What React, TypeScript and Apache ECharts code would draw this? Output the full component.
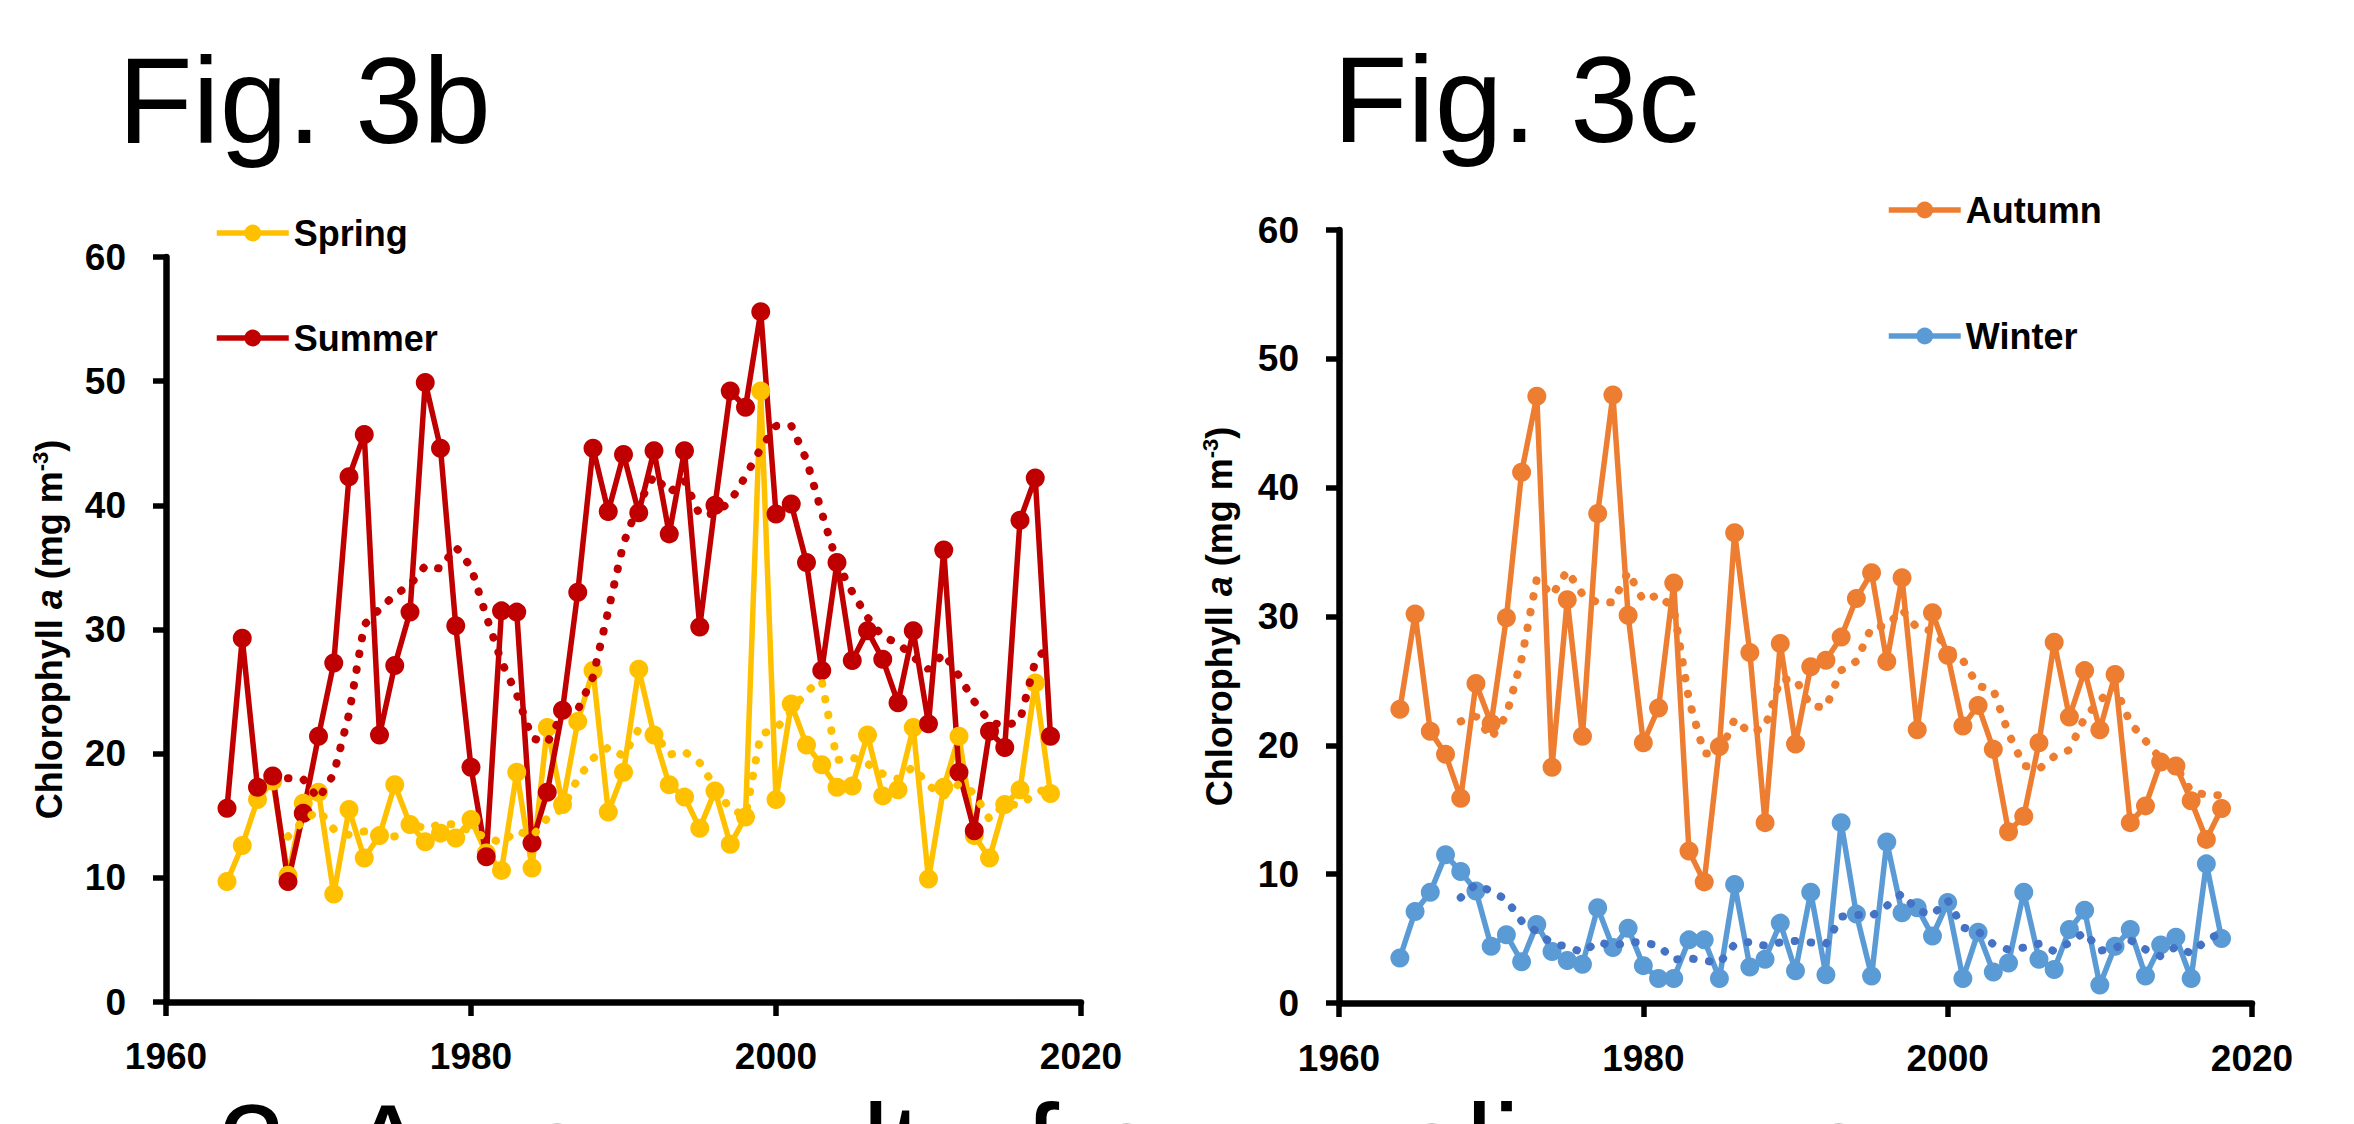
import React, { useEffect, useRef } from 'react';
import * as echarts from 'echarts';

const FONT = '"Liberation Sans", Arial, sans-serif';

const years = [
  1964, 1965, 1966, 1967, 1968, 1969, 1970, 1971, 1972, 1973,
  1974, 1975, 1976, 1977, 1978, 1979, 1980, 1981, 1982, 1983,
  1984, 1985, 1986, 1987, 1988, 1989, 1990, 1991, 1992, 1993,
  1994, 1995, 1996, 1997, 1998, 1999, 2000, 2001, 2002, 2003,
  2004, 2005, 2006, 2007, 2008, 2009, 2010, 2011, 2012, 2013,
  2014, 2015, 2016, 2017, 2018,
];

const trendYears = [
  1968, 1969, 1970, 1971, 1972, 1973, 1974, 1975, 1976, 1977,
  1978, 1979, 1980, 1981, 1982, 1983, 1984, 1985, 1986, 1987,
  1988, 1989, 1990, 1991, 1992, 1993, 1994, 1995, 1996, 1997,
  1998, 1999, 2000, 2001, 2002, 2003, 2004, 2005, 2006, 2007,
  2008, 2009, 2010, 2011, 2012, 2013, 2014, 2015, 2016, 2017, 2018,
];

const spring = [
  9.7, 12.6, 16.3, 17.8, 10.2, 16.0, 16.9, 8.7, 15.5, 11.6,
  13.4, 17.5, 14.3, 12.9, 13.6, 13.2, 14.7, 12.0, 10.6, 18.5,
  10.8, 22.1, 15.9, 22.6, 26.7, 15.3, 18.5, 26.8, 21.5, 17.5,
  16.5, 14.0, 17.0, 12.7, 14.9, 49.2, 16.3, 24.0, 20.7, 19.1,
  17.3, 17.4, 21.5, 16.6, 17.1, 22.1, 9.9, 17.3, 21.4, 13.4,
  11.6, 15.9, 17.1, 25.7, 16.8,
];

const summer = [
  15.6, 29.3, 17.3, 18.2, 9.7, 15.2, 21.4, 27.3, 42.3, 45.7,
  21.5, 27.1, 31.4, 49.9, 44.6, 30.3, 18.9, 11.7, 31.5, 31.4,
  12.8, 16.9, 23.5, 33.0, 44.6, 39.5, 44.1, 39.4, 44.4, 37.7,
  44.4, 30.2, 40.0, 49.2, 47.9, 55.6, 39.3, 40.1, 35.4, 26.7,
  35.4, 27.5, 29.9, 27.6, 24.1, 29.9, 22.4, 36.4, 18.5, 13.8,
  21.8, 20.5, 38.8, 42.2, 21.4,
];

const autumn = [
  22.8, 30.2, 21.1, 19.3, 15.9, 24.8, 21.7, 29.9, 41.2, 47.1,
  18.3, 31.3, 20.7, 38.0, 47.2, 30.1, 20.2, 22.9, 32.6, 11.8,
  9.4, 19.9, 36.5, 27.2, 14.0, 27.9, 20.1, 26.1, 26.6, 28.4,
  31.4, 33.4, 26.5, 33.0, 21.2, 30.3, 27.0, 21.5, 23.1, 19.7,
  13.3, 14.5, 20.2, 28.0, 22.2, 25.8, 21.2, 25.5, 14.0, 15.3,
  18.7, 18.4, 15.7, 12.7, 15.1,
];

const winter = [
  3.5, 7.1, 8.6, 11.5, 10.2, 8.7, 4.4, 5.3, 3.2, 6.1,
  4.0, 3.3, 3.0, 7.4, 4.3, 5.8, 2.9, 1.9, 1.9, 4.9,
  4.9, 1.9, 9.2, 2.8, 3.4, 6.2, 2.5, 8.6, 2.2, 14.0,
  6.9, 2.1, 12.5, 7.0, 7.4, 5.2, 7.8, 1.9, 5.5, 2.4,
  3.1, 8.6, 3.4, 2.6, 5.7, 7.2, 1.4, 4.4, 5.7, 2.1,
  4.5, 5.1, 1.9, 10.8, 5.0,
];

// dotted trend lines (5-year moving-average trendlines)
const springTrend = [
  13.32, 14.58, 15.44, 13.92, 13.46, 13.74, 13.22, 13.34, 14.46, 13.94,
  14.34, 14.3, 13.74, 13.28, 12.82, 13.8, 13.32, 14.8, 15.58, 17.98,
  19.62, 20.52, 19.8, 21.98, 21.76, 19.92, 20.16, 19.26, 17.3, 15.54,
  15.02, 21.56, 22.02, 23.42, 25.02, 25.86, 19.48, 19.7, 19.2, 18.38,
  17.98, 18.94, 17.44, 16.6, 17.56, 16.82, 14.72, 15.92, 15.88, 16.74, 17.42,
];

const summerTrend = [
  18.02, 17.94, 16.36, 18.36, 23.18, 30.38, 31.64, 32.78, 33.6, 35.12,
  34.9, 36.66, 35.02, 31.08, 27.4, 24.76, 21.26, 20.86, 23.22, 23.52,
  26.16, 31.5, 36.94, 40.12, 42.4, 41.02, 42.0, 39.22, 39.34, 40.3,
  42.34, 44.58, 46.4, 46.42, 43.66, 39.42, 35.38, 33.02, 30.98, 29.42,
  28.9, 27.8, 26.78, 28.08, 26.26, 24.2, 22.58, 22.2, 22.68, 27.42, 28.94,
];

const autumnTrend = [
  21.86, 22.26, 20.56, 22.32, 26.7, 32.94, 31.64, 33.56, 31.72, 31.08,
  31.1, 33.46, 31.24, 31.68, 30.6, 23.52, 19.38, 19.32, 22.04, 20.96,
  21.4, 25.1, 25.14, 23.06, 22.94, 25.82, 26.52, 29.18, 29.26, 30.54,
  29.1, 28.88, 27.6, 26.6, 24.62, 24.32, 20.92, 18.42, 18.16, 19.14,
  19.64, 22.14, 23.48, 24.54, 21.74, 20.36, 18.94, 18.38, 16.42, 16.16, 16.12,
];

const winterTrend = [
  8.18, 9.22, 8.68, 8.02, 6.36, 5.54, 4.6, 4.38, 3.92, 4.76,
  4.4, 4.76, 4.68, 4.46, 3.36, 3.48, 3.3, 3.1, 4.56, 4.74,
  4.44, 4.7, 4.82, 4.7, 4.58, 6.7, 6.84, 6.76, 7.54, 8.5,
  7.18, 6.84, 7.98, 5.86, 5.56, 4.56, 4.14, 4.3, 4.6, 4.02,
  4.68, 5.5, 4.06, 4.26, 4.88, 4.16, 3.62, 4.36, 3.86, 4.88, 5.46,
];

const xTicks = { min: 1960, max: 2020, interval: 20 };
const yTicks = { min: 0, max: 60, interval: 10 };

const COLORS = {
  spring: '#FFC000',
  summer: '#C00000',
  autumn: '#ED7D31',
  winter: '#5B9BD5',
  winterTrend: '#4472C4',
};

const pairs = (xs: number[], vs: number[]) => xs.map((x, i) => [x, vs[i]]);

function mainSeries(name: string, color: string, values: number[], idx: number) {
  return {
    name,
    type: 'line',
    xAxisIndex: idx,
    yAxisIndex: idx,
    data: pairs(years, values),
    symbol: 'circle',
    symbolSize: 19,
    showSymbol: true,
    lineStyle: { color, width: 5.5 },
    itemStyle: { color, borderWidth: 0 },
    silent: true,
    z: 2,
  };
}

function trendSeries(name: string, color: string, values: number[], idx: number) {
  return {
    name,
    type: 'line',
    xAxisIndex: idx,
    yAxisIndex: idx,
    data: pairs(trendYears, values),
    symbol: 'none',
    showSymbol: false,
    lineStyle: { color, width: 8, type: [0.5, 15.5], cap: 'round' },
    itemStyle: { color },
    silent: true,
    z: 3,
  };
}

function xAxisCfg(idx: number, margin: number) {
  return {
    gridIndex: idx,
    type: 'value',
    min: xTicks.min,
    max: xTicks.max,
    interval: xTicks.interval,
    axisLine: { show: true, onZero: false, lineStyle: { color: '#000', width: 6.5 } },
    axisTick: { show: true, inside: false, length: 14, lineStyle: { color: '#000', width: 5.5 } },
    axisLabel: {
      show: true,
      margin,
      color: '#000',
      fontSize: 37,
      fontWeight: 'bold',
      fontFamily: FONT,
      formatter: (v: number) => String(v),
    },
    splitLine: { show: false },
  };
}

function yAxisCfg(idx: number, nameGap: number) {
  const base = { fontFamily: FONT, color: '#000', fontWeight: 'bold', fontSize: 36, lineHeight: 40 };
  return {
    gridIndex: idx,
    type: 'value',
    min: yTicks.min,
    max: yTicks.max,
    interval: yTicks.interval,
    name: '{b|Chlorophyll }{i|a}{b| (mg m}{s|-3}{b|)}',
    nameLocation: 'middle',
    nameRotate: 90,
    nameGap,
    nameTextStyle: {
      fontFamily: FONT,
      color: '#000',
      fontWeight: 'bold',
      fontSize: 36,
      rich: {
        b: { ...base },
        i: { ...base, fontStyle: 'italic' },
        s: { ...base, fontSize: 22, lineHeight: 22, verticalAlign: 'top' },
      },
    },
    axisLine: { show: true, onZero: false, lineStyle: { color: '#000', width: 6.5 } },
    axisTick: { show: true, inside: false, length: 13, lineStyle: { color: '#000', width: 5.5 } },
    axisLabel: {
      show: true,
      margin: 40,
      color: '#000',
      fontSize: 37,
      fontWeight: 'bold',
      fontFamily: FONT,
    },
    splitLine: { show: false },
  };
}

const legendCommon = {
  orient: 'horizontal',
  padding: 0,
  itemWidth: 72,
  itemHeight: 21,
  itemGap: 0,
  selectedMode: false,
  lineStyle: { width: 5.5 },
  textStyle: { fontSize: 36, fontWeight: 'bold', color: '#000', fontFamily: FONT, lineHeight: 36 },
};

export default function App() {
  const ref = useRef<HTMLDivElement>(null);

  useEffect(() => {
    document.body.style.margin = '0';
    document.body.style.overflow = 'hidden';
    if (!ref.current) return;
    const chart = echarts.init(ref.current, null, { renderer: 'svg' });

    const option: any = {
      animation: false,
      backgroundColor: '#fff',
      grid: [
        { left: 166, top: 257, width: 915, height: 745, containLabel: false, outerBoundsMode: 'none' },
        { left: 1339, top: 230, width: 913, height: 773, containLabel: false, outerBoundsMode: 'none' },
      ],
      xAxis: [xAxisCfg(0, 36), xAxisCfg(1, 37)],
      yAxis: [yAxisCfg(0, 97), yAxisCfg(1, 100)],
      legend: [
        { ...legendCommon, data: ['Spring'], left: 214, top: 215 },
        { ...legendCommon, data: ['Summer'], left: 214, top: 320 },
        { ...legendCommon, data: ['Autumn'], left: 1886, top: 192 },
        { ...legendCommon, data: ['Winter'], left: 1886, top: 318 },
      ],
      graphic: [
        {
          type: 'text',
          x: 118,
          y: 101,
          style: { text: 'Fig. 3b', fontSize: 122, fontFamily: FONT, fill: '#000', align: 'left', verticalAlign: 'middle' },
        },
        {
          type: 'text',
          x: 1333,
          y: 100,
          style: { text: 'Fig. 3c', fontSize: 122, fontFamily: FONT, fill: '#000', align: 'left', verticalAlign: 'middle' },
        },
        {
          type: 'text',
          x: 218,
          y: 1148,
          style: {
            text: '2. As a result of anomalies, warmer',
            fontSize: 122,
            fontFamily: FONT,
            fill: '#000',
            align: 'left',
            verticalAlign: 'middle',
          },
        },
      ],
      series: [
        mainSeries('Spring', COLORS.spring, spring, 0),
        mainSeries('Summer', COLORS.summer, summer, 0),
        trendSeries('Spring trend', COLORS.spring, springTrend, 0),
        trendSeries('Summer trend', COLORS.summer, summerTrend, 0),
        mainSeries('Autumn', COLORS.autumn, autumn, 1),
        mainSeries('Winter', COLORS.winter, winter, 1),
        trendSeries('Autumn trend', COLORS.autumn, autumnTrend, 1),
        trendSeries('Winter trend', COLORS.winterTrend, winterTrend, 1),
      ],
    };

    chart.setOption(option);
    return () => {
      chart.dispose();
    };
  }, []);

  return <div ref={ref} style={{ width: 2354, height: 1124 }} />;
}
